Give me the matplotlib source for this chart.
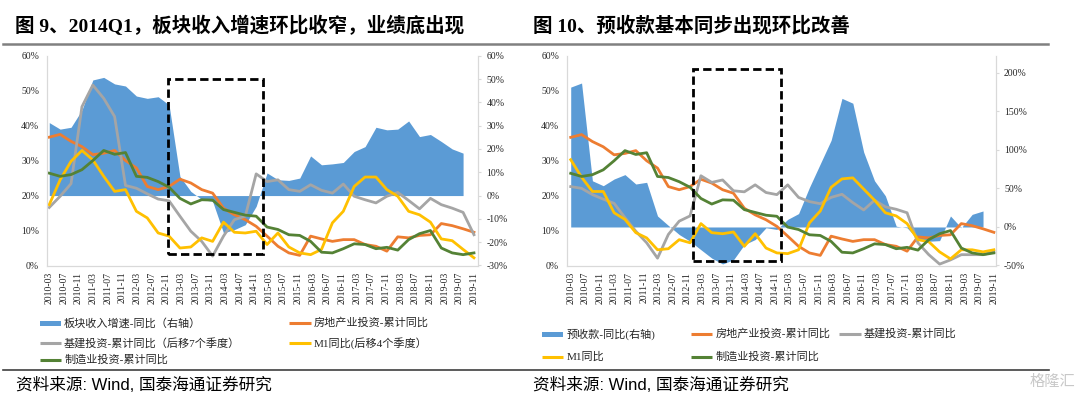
import matplotlib
matplotlib.use('Agg')
import matplotlib.pyplot as plt
import numpy as np
from matplotlib.patches import Rectangle

plt.rcParams['font.family'] = ['Liberation Serif', 'Noto Sans CJK SC']
plt.rcParams['axes.unicode_minus'] = False

W, H = 1080, 396
BLUE, ORANGE, GRAY, YELLOW, GREEN = '#5B9BD5', '#ED7D31', '#A5A5A5', '#FFC000', '#548235'
SPINE = '#D9D9D9'
SANS = ['Liberation Sans', 'Noto Sans CJK SC']

# quarterly points 2010-03 .. 2019-12 on a month axis, ticks every 4 months
n_q = 40
tick_months = np.arange(0, 117, 4)
tick_labels = [f"{2010 + (m + 2) // 12}-{(m + 2) % 12 + 1:02d}" for m in tick_months]

# shared series (%)
realestate = [36.7, 37.5, 35.5, 34.0, 31.7, 32.1, 32.9, 30.0, 27.9, 22.6, 21.7, 22.6, 24.7, 23.6,
              21.7, 20.7, 16.4, 14.5, 13.1, 11.2, 8.4, 5.5, 3.6, 2.9, 8.4, 7.6, 6.9, 7.4, 7.4, 6.0,
              5.5, 4.1, 8.2, 7.9, 8.6, 8.8, 12.0, 11.4, 10.5, 9.5]
manufact = [26.4, 25.5, 26.0, 27.4, 30.0, 32.9, 31.8, 32.3, 25.5, 25.2, 24.0, 22.4, 19.2, 17.6,
            18.8, 18.7, 16.0, 15.2, 14.4, 14.1, 11.0, 10.3, 8.8, 8.6, 6.9, 3.8, 3.6, 4.8, 6.2, 6.0,
            4.8, 5.2, 4.4, 7.4, 9.1, 10.0, 5.0, 3.6, 3.1, 3.6]

# figure 9
rev_growth = [31.3, 28.5, 29.3, 36.7, 49.6, 50.7, 47.9, 47.0, 42.7, 41.7, 42.4, 38.9, 8.2, 1.8,
              -1.7, -2.5, -16.0, -14.6, -12.5, -4.6, 9.7, 6.8, 6.5, 7.5, 17.0, 13.2, 13.6, 14.2,
              18.9, 21.0, 29.3, 28.2, 28.5, 32.0, 25.3, 26.2, 23.2, 20.0, 18.2]
infra_lag7 = [16.6, 19.8, 23.4, 45.4, 51.6, 47.8, 42.6, 22.9, 22.1, 20.5, 19.0, 18.5, 14.1, 9.8,
              6.9, 2.7, 8.4, 13.1, 14.1, 26.2, 24.0, 24.5, 21.7, 21.2, 23.1, 21.5, 20.7, 23.3,
              19.8, 18.8, 17.9, 19.8, 20.9, 18.6, 16.2, 19.2, 17.4, 16.4, 15.2, 8.8]
m1_lag4 = [17.4, 24.5, 29.8, 32.9, 30.2, 25.5, 21.2, 21.7, 15.5, 13.6, 9.3, 8.4, 5.0, 5.3, 7.9,
           6.9, 12.4, 9.5, 9.3, 9.8, 6.0, 9.3, 5.3, 3.6, 3.1, 4.6, 12.2, 15.5, 22.6, 25.3, 25.3,
           21.7, 19.8, 15.5, 14.5, 12.4, 7.6, 7.1, 4.6, 2.2]

# figure 10
adv_receipts = [181.6, 186.9, 60.0, 53.6, 62.3, 68.0, 55.8, 58.0, 14.3, 2.0, -9.8, -18.5, -29.5,
                -40.4, -48.0, -42.6, -22.9, -16.3, -1.0, -3.2, 9.9, 17.4, 51.4, 82.0, 112.6,
                167.0, 160.7, 97.3, 60.0, 40.5, 1.0, -1.0, -16.4, -18.5, -17.7, 14.3, -1.0,
                16.4, 20.8]
infra = [22.6, 22.1, 20.3, 19.0, 17.8, 13.7, 9.8, 6.5, 2.1, 8.9, 12.7, 14.2, 25.7, 23.8, 24.5,
         21.4, 21.1, 23.1, 20.9, 20.3, 23.1, 19.5, 18.3, 17.7, 19.5, 20.4, 18.0, 15.9, 18.7,
         16.8, 16.1, 15.1, 6.5, 3.1, 0.4, 1.6, 3.1, 3.1, 3.1, 3.9]
m1 = [30.3, 25.3, 21.2, 21.2, 15.1, 13.2, 9.4, 7.9, 4.5, 4.8, 7.4, 6.5, 12.0, 9.4, 9.1, 9.6,
      5.5, 9.1, 5.0, 3.6, 3.4, 4.5, 12.2, 15.6, 22.4, 24.8, 25.1, 21.9, 18.7, 15.1, 14.2, 12.0,
      7.4, 6.8, 3.9, 1.9, 4.5, 4.5, 3.9, 4.5]

x_q = np.linspace(0, 116, n_q)

fig = plt.figure(figsize=(W / 100, H / 100), dpi=100)


def px_rect(x0, y0, x1, y1):
    return [x0 / W, 1 - y1 / H, (x1 - x0) / W, (y1 - y0) / H]


def panel(rect, xlim, y2lim, y2ticks, area, lines, box):
    ax = fig.add_axes(rect)
    ax2 = ax.twinx()
    ax.set_zorder(ax2.get_zorder() + 1)
    ax.patch.set_visible(False)

    ax2.fill_between(x_q[:len(area)], 0, area, color=BLUE, lw=0)
    for vals, c in lines:
        ax.plot(x_q[:len(vals)], vals, color=c, lw=2)

    ax.add_patch(Rectangle((box[0], box[1]), box[2] - box[0], box[3] - box[1], fill=False,
                           ec='black', lw=2, ls=(0, (3, 1.5)), zorder=6, clip_on=False))

    ax.set_xlim(*xlim)
    ax.set_ylim(0, 60)
    ax2.set_ylim(*y2lim)
    ax.set_xticks(tick_months)
    ax.set_xticklabels(tick_labels, rotation=90)
    ax.set_yticks(np.arange(0, 61, 10))
    ax.set_yticklabels([f"{v}%" for v in range(0, 61, 10)])
    ax2.set_yticks(y2ticks)
    ax2.set_yticklabels([f"{v}%" for v in y2ticks])

    ax.tick_params(axis='x', length=0, pad=4.5, labelsize=7, labelcolor='#262626')
    ax.tick_params(axis='y', length=0, pad=5.5, labelsize=7, labelcolor='#262626')
    ax2.tick_params(axis='y', length=2, width=0.8, color=SPINE, pad=4, labelsize=7,
                    labelcolor='#262626')
    for a in (ax, ax2):
        a.spines['top'].set_visible(False)
        for s in ('left', 'right', 'bottom'):
            a.spines[s].set_color(SPINE)
            a.spines[s].set_linewidth(0.8)
    return ax, ax2


panel(px_rect(46.7, 55.7, 478, 265.5), (-0.7, 117.1), (-30, 60), list(range(-30, 61, 10)),
      rev_growth,
      [(realestate, ORANGE), (infra_lag7, GRAY), (m1_lag4, YELLOW), (manufact, GREEN)],
      (32.46, 3.42, 58.47, 53.2))

panel(px_rect(566.7, 56, 995.7, 265.5), (-1.1, 116.5), (-50, 222), list(range(-50, 201, 50)),
      adv_receipts,
      [(realestate, ORANGE), (infra, GRAY), (m1, YELLOW), (manufact, GREEN)],
      (33.56, 1.16, 57.7, 56.3))

# page furniture in pixel coordinates
over = fig.add_axes([0, 0, 1, 1])
over.set_xlim(0, W)
over.set_ylim(H, 0)
over.axis('off')

over.plot([3, 1048], [44, 44], color='#808080', lw=1.8)
over.plot([3, 1049], [369.5, 369.5], color='#404040', lw=1.2)

over.text(15, 26, '图 9、2014Q1，板块收入增速环比收窄，业绩底出现', fontsize=14,
          fontweight='bold', va='center', ha='left')
over.text(533, 26, '图 10、预收款基本同步出现环比改善', fontsize=14,
          fontweight='bold', va='center', ha='left')


def legend_item(x, y, color, label, patch=False):
    if patch:
        over.add_patch(Rectangle((x, y - 2.5), 21.7, 5, color=color, lw=0))
    else:
        over.plot([x, x + 21.7], [y, y], color=color, lw=2.2, solid_capstyle='butt')
    over.text(x + 24.5, y, label, fontsize=8, va='center', ha='left', color='#262626')


legend_item(39.6, 323, BLUE, '板块收入增速-同比（右轴）', patch=True)
legend_item(289, 323, ORANGE, '房地产业投资-累计同比')
legend_item(39.6, 342.8, GRAY, '基建投资-累计同比（后移7个季度）')
legend_item(289, 342.8, YELLOW, 'M1同比(后移4个季度）')
legend_item(39.6, 360, GREEN, '制造业投资-累计同比')

legend_item(541.7, 334, BLUE, '预收款-同比(右轴)', patch=True)
legend_item(690.7, 334, ORANGE, '房地产业投资-累计同比')
legend_item(839, 334, GRAY, '基建投资-累计同比')
legend_item(541.7, 356.5, YELLOW, 'M1同比')
legend_item(690.7, 356.5, GREEN, '制造业投资-累计同比')

over.text(15.5, 385, '资料来源: Wind, 国泰海通证券研究', fontsize=12, family=SANS,
          va='center', ha='left')
over.text(533, 385, '资料来源: Wind, 国泰海通证券研究', fontsize=12, family=SANS,
          va='center', ha='left')
over.text(1052, 382, '格隆汇', fontsize=11, family=SANS, color='#C8C8C8',
          va='center', ha='center')

fig.savefig('out.png', dpi=100)
plt.close(fig)
